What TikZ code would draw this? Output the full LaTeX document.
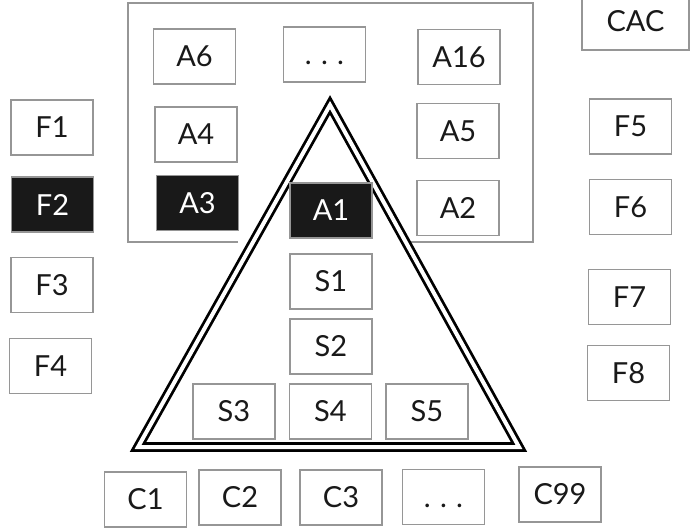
\documentclass[tikz,border=0pt]{standalone}
\usepackage{fontspec}
\setmainfont{Lato}
\newcommand{\mydots}{\vphantom{A}.\hspace{0.32em}.\hspace{0.32em}.}
\begin{document}
\begin{tikzpicture}[x=1pt,y=-1pt,
  bx/.style={draw=boxgray, line width=1.6pt, fill=white, minimum width=82pt, minimum height=55pt, inner sep=0pt, font=\fontsize{29}{33}\selectfont, text=black!90},
  dk/.style={bx, fill=black!90, text=white}]
\definecolor{boxgray}{RGB}{150,150,150}
\useasboundingbox (0,0) rectangle (690,527);
% outer gray frame
\draw[boxgray, line width=1.6pt] (238,242) -- (128,242) -- (128,3) -- (533,3) -- (533,242) -- (410,242);
% triangle
\draw[fill=white, draw=black, double=white, double distance=4pt, line width=2.8pt, line join=miter]
  (330,105) -- (519,447) -- (138,447) -- cycle;
% A boxes
\node[bx] (a6) at (194.5,56.5) {A6};
\node[bx] (adots) at (324.5,54.5) {\mydots};
\node[bx] (a16) at (459,57) {A16};
\node[bx] (a4) at (196,134.5) {A4};
\node[bx] (a5) at (458,131) {A5};
\node[dk] (a3) at (197.5,203) {A3};
\node[dk] (a1) at (331,210.5) {A1};
\node[bx] (a2) at (458,208) {A2};
% S boxes
\node[bx] (s1) at (331,281.5) {S1};
\node[bx] (s2) at (331,346.5) {S2};
\node[bx] (s3) at (234,411.5) {S3};
\node[bx] (s4) at (330.5,411.5) {S4};
\node[bx] (s5) at (427,411.5) {S5};
% C boxes
\node[bx] (c1) at (145.5,499.5) {C1};
\node[bx] (c2) at (240,497.5) {C2};
\node[bx] (c3) at (341,497.5) {C3};
\node[bx] (cdots) at (443.5,497) {\mydots};
\node[bx] (c99) at (560,494.5) {C99};
% F boxes
\node[bx] (f1) at (52,127.5) {F1};
\node[dk] (f2) at (52.5,204.5) {F2};
\node[bx] (f3) at (52,285) {F3};
\node[bx] (f4) at (50.5,366) {F4};
\node[bx] (f5) at (630.5,126.5) {F5};
\node[bx] (f6) at (630.5,207) {F6};
\node[bx] (f7) at (629.5,297) {F7};
\node[bx] (f8) at (628.5,373) {F8};
% CAC
\node[bx, minimum width=107pt, minimum height=58pt] (cac) at (635.5,21) {CAC};
\end{tikzpicture}
\end{document}
